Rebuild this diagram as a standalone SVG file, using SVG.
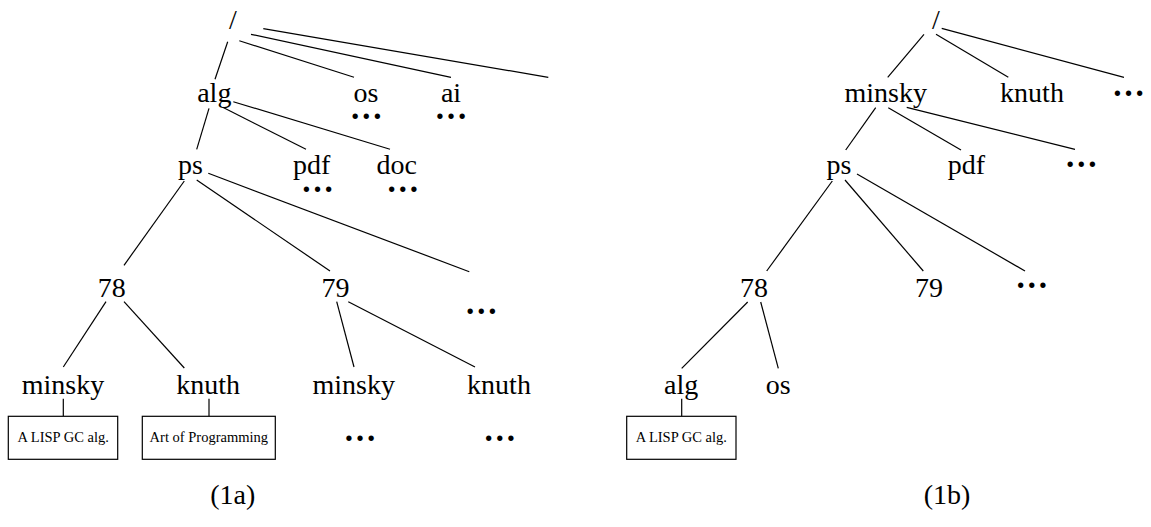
<svg xmlns="http://www.w3.org/2000/svg" width="1151" height="527" viewBox="0 0 1151 527">
<style>
text{font-family:"Liberation Serif","Times New Roman",serif;fill:#000;text-anchor:middle}
.n{font-size:28px}
.d{font-size:33px;font-weight:bold}
.b{font-size:14.5px}
.c{font-size:28px}
#edges line{stroke:#000;stroke-width:1.2}
rect{fill:#fff;stroke:#000;stroke-width:1.2}
</style>
<rect x="0" y="0" width="1151" height="527" style="stroke:none"/>
<g id="edges">
<!-- left tree -->
<line x1="227.7" y1="41.7" x2="215" y2="79.3"/>
<line x1="239.3" y1="40.7" x2="354" y2="77.3"/>
<line x1="251" y1="34.3" x2="451" y2="77.3"/>
<line x1="263.3" y1="28.7" x2="548.3" y2="77.3"/>
<line x1="209" y1="108.3" x2="196.7" y2="149.3"/>
<line x1="222.7" y1="107.3" x2="306" y2="149.3"/>
<line x1="233.3" y1="101.7" x2="390" y2="149.3"/>
<line x1="184.3" y1="181" x2="124" y2="265.3"/>
<line x1="196.7" y1="180" x2="330" y2="271"/>
<line x1="208.3" y1="173.3" x2="469.3" y2="271.7"/>
<line x1="106" y1="301.7" x2="63.3" y2="367"/>
<line x1="124" y1="301.7" x2="184.3" y2="368"/>
<line x1="336.7" y1="301.7" x2="354" y2="367"/>
<line x1="348.3" y1="301.7" x2="475" y2="367"/>
<line x1="63.3" y1="398.7" x2="63.3" y2="416.3"/>
<line x1="209" y1="398.7" x2="209" y2="416.3"/>
<!-- right tree -->
<line x1="924" y1="34.3" x2="887.7" y2="77.3"/>
<line x1="936" y1="34.3" x2="1008.3" y2="77.3"/>
<line x1="941.7" y1="28.3" x2="1124" y2="77.3"/>
<line x1="875.7" y1="107.7" x2="845.7" y2="150"/>
<line x1="888.3" y1="107.7" x2="961" y2="150"/>
<line x1="906.7" y1="107.3" x2="1075" y2="149.3"/>
<line x1="832.3" y1="181" x2="766.7" y2="271"/>
<line x1="845" y1="180" x2="923.3" y2="271"/>
<line x1="857" y1="174" x2="1025" y2="271"/>
<line x1="747.7" y1="302" x2="681.7" y2="368.3"/>
<line x1="760.7" y1="302" x2="778.3" y2="368.3"/>
<line x1="681.7" y1="398.7" x2="681.7" y2="416.3"/>
</g>
<!-- left tree nodes -->
<g id="a-root"><text class="n" x="233" y="29">/</text></g>
<g id="a-alg"><text class="n" x="214.3" y="102">alg</text></g>
<g id="a-os"><text class="n" x="366" y="102">os</text><text class="d" x="366.2" y="119">…</text></g>
<g id="a-ai"><text class="n" x="451" y="102">ai</text><text class="d" x="451" y="119">…</text></g>
<g id="a-ps"><text class="n" x="190.5" y="174">ps</text></g>
<g id="a-pdf"><text class="n" x="311.7" y="174">pdf</text><text class="d" x="317.6" y="191.7">…</text></g>
<g id="a-doc"><text class="n" x="396.7" y="174">doc</text><text class="d" x="402.7" y="192.3">…</text></g>
<g id="a-78"><text class="n" x="111.7" y="296.7">78</text></g>
<g id="a-79"><text class="n" x="335.5" y="296.7">79</text></g>
<g id="a-more"><text class="d" x="481.3" y="313.7">…</text></g>
<g id="a-78-minsky"><text class="n" x="63" y="393.5">minsky</text></g>
<g id="a-78-knuth"><text class="n" x="208.2" y="393.5">knuth</text></g>
<g id="a-79-minsky"><text class="n" x="353.7" y="393.5">minsky</text><text class="d" x="360" y="441">…</text></g>
<g id="a-79-knuth"><text class="n" x="499" y="393.5">knuth</text><text class="d" x="499.8" y="441">…</text></g>
<g id="a-doc1"><rect x="8.3" y="416.3" width="109.4" height="43"/><text class="b" x="63.2" y="442">A LISP GC alg.</text></g>
<g id="a-doc2"><rect x="142.3" y="416.3" width="133" height="43"/><text class="b" x="208.8" y="442">Art of Programming</text></g>
<g id="cap-a"><text class="c" x="232.7" y="504">(1a)</text></g>
<!-- right tree nodes -->
<g id="b-root"><text class="n" x="936" y="29">/</text></g>
<g id="b-minsky"><text class="n" x="885.8" y="101.7">minsky</text></g>
<g id="b-knuth"><text class="n" x="1032" y="101.7">knuth</text></g>
<g id="b-more1"><text class="d" x="1128.5" y="96">…</text></g>
<g id="b-ps"><text class="n" x="839" y="174">ps</text></g>
<g id="b-pdf"><text class="n" x="966.3" y="174">pdf</text></g>
<g id="b-more2"><text class="d" x="1081.3" y="166.7">…</text></g>
<g id="b-78"><text class="n" x="754" y="296.7">78</text></g>
<g id="b-79"><text class="n" x="929" y="296.7">79</text></g>
<g id="b-more3"><text class="d" x="1031.8" y="287.7">…</text></g>
<g id="b-alg"><text class="n" x="681.2" y="393.5">alg</text></g>
<g id="b-os"><text class="n" x="778.2" y="393.5">os</text></g>
<g id="b-doc1"><rect x="626.7" y="416.3" width="109.3" height="43"/><text class="b" x="681.3" y="442">A LISP GC alg.</text></g>
<g id="cap-b"><text class="c" x="947" y="504">(1b)</text></g>
</svg>
